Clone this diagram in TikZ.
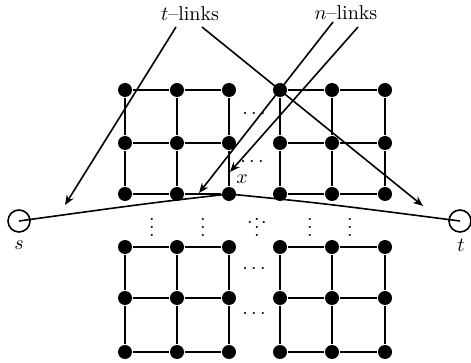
\documentclass[tikz,border=0pt]{standalone}
\usetikzlibrary{arrows.meta}

\begin{document}
\begin{tikzpicture}[x=0.5pt, y=-0.5pt, thick,
  dot/.style={circle, fill, inner sep=0pt, minimum size=7pt},
  term/.style={circle, draw, inner sep=0pt, minimum size=11pt},
  gap/.style={inner sep=0pt},
  link/.style={-{Stealth[length=5pt, width=4pt]}}]
\useasboundingbox (0,0) rectangle (471,363);
% grid of pixels
\foreach \c/\x in {1/125, 2/177, 3/229, 4/280, 5/332, 6/385} {
  \foreach \r/\y in {1/90, 2/143, 3/194, 4/247, 5/298, 6/352} {
    \node[dot] (g\c\r) at (\x,\y) {};
  }
}
\foreach \r in {1,...,6} {
  \draw (g1\r) -- (g2\r) -- (g3\r);
  \draw (g4\r) -- (g5\r) -- (g6\r);
}
\foreach \c in {1,...,6} {
  \draw (g\c1) -- (g\c2) -- (g\c3);
  \draw (g\c4) -- (g\c5) -- (g\c6);
}
% dots between blocks
\node[gap] (h1) at (254,114) {$\cdots$};
\node[gap] (h2) at (252,162) {$\cdots$};
\node[gap] (h3) at (254,269) {$\cdots$};
\node[gap] (h4) at (254,314) {$\cdots$};
\node[gap] (v1) at (152,221) {$\vdots$};
\node[gap] (v2) at (203,221) {$\vdots$};
\node[gap] (v3) at (257,221) {$\vdots$};
\node[gap, anchor=base] (v3l) at (250,224) {.};
\node[gap, anchor=base] (v3r) at (264,224) {.};
\node[gap] (v4) at (310,221) {$\vdots$};
\node[gap] (v5) at (350,221) {$\vdots$};
% terminals
\node[term] (s) at (19,221) {};
\node[term] (t) at (460,221) {};
\node (sl) at (19,245) {$s$};
\node (tl) at (461,245) {$t$};
\node[gap] (xl) at (242,179) {$x$};
\draw (s.center) .. controls (150,203) .. (g33.center) .. controls (320,203) .. (t.center);
% link labels
\node (tlink) at (190,14) {$t$--links};
\node (nlink) at (346,13) {$n$--links};
\coordinate (ta) at (65,205);
\coordinate (tb) at (423,206);
\coordinate (na) at (199,193);
\coordinate (nb) at (230,172);
\draw[link] (176,27) -- (ta);
\draw[link] (202,27) -- (tb);
\draw[link] (333,22) -- (na);
\draw[link] (358,27) -- (nb);
\end{tikzpicture}
\end{document}
